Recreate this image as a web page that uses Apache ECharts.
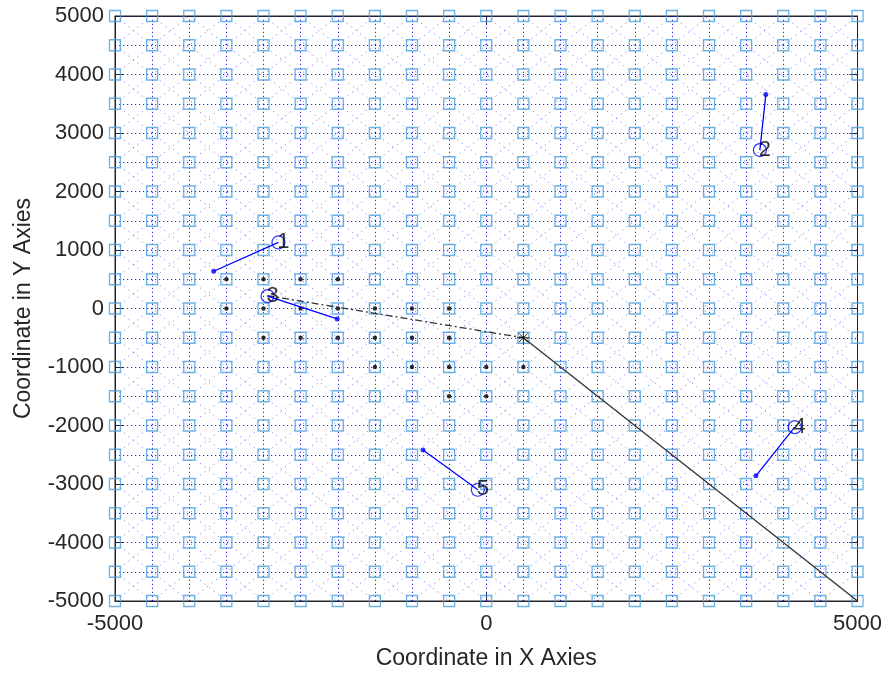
<!DOCTYPE html>
<html>
<head>
<meta charset="utf-8">
<script src="https://cdn.jsdelivr.net/npm/echarts@6/dist/echarts.min.js"></script>
<style>html,body{margin:0;padding:0;background:#fff}#c{width:885px;height:675px}</style>
</head>
<body>
<div id="c"></div>
<script>
// ---- data ----
var nodeValues = [-5000,-4500,-4000,-3500,-3000,-2500,-2000,-1500,-1000,-500,0,500,1000,1500,2000,2500,3000,3500,4000,4500,5000];
var xTicks = [-5000, 0, 5000];
var yTicks = [-5000,-4000,-3000,-2000,-1000,0,1000,2000,3000,4000,5000];
var coveredNodes = [
  [-3500,500],[-3000,500],[-2500,500],[-2000,500],
  [-3500,0],[-3000,0],[-2500,0],[-2000,0],[-1500,0],[-1000,0],[-500,0],
  [-3000,-500],[-2500,-500],[-2000,-500],[-1500,-500],[-1000,-500],[-500,-500],
  [-1500,-1000],[-1000,-1000],[-500,-1000],[0,-1000],[500,-1000],
  [-500,-1500],[0,-1500]
];
var basePoint = [500,-500];
var solidPath = [[500,-500],[5000,-5000]];
var dashDotPath = [[-2950,220],[500,-500]];
var trackNames = ['1','2','3','4','5'];
var trackHeads = [[-2799,1129],[3685,2708],[-2946,212],[4154,-2029],[-114,-3098]];
var trackTails = [[-3671,637],[3765,3659],[-2007,-178],[3631,-2861],[-852,-2419]];

// ---- build ----
var lo = nodeValues[0], hi = nodeValues[nodeValues.length-1];
var gridNodes = [];
nodeValues.forEach(function(x){ nodeValues.forEach(function(y){ gridNodes.push([x,y]); }); });
var hvLines = [];
nodeValues.forEach(function(v){
  hvLines.push({coords:[[lo,v],[hi,v]]});
  hvLines.push({coords:[[v,lo],[v,hi]]});
});
var diagLines = [];
for (var i = 1; i < nodeValues.length*2-2; i++) {
  var c = (i - (nodeValues.length-1)) * (nodeValues[1]-nodeValues[0]);
  if (c >= 0) diagLines.push({coords:[[lo+c,lo],[hi,hi-c]]});
  else diagLines.push({coords:[[lo,lo-c],[hi+c,hi]]});
  if (c >= 0) diagLines.push({coords:[[c-hi,hi],[hi,c-hi]]});
  else diagLines.push({coords:[[lo,c+hi],[c+hi,lo]]});
}

var FONT = 'Liberation Sans';
var TXT = '#262626';
var plain = function(v){ return String(v); };
var series = [
  {type:'lines', coordinateSystem:'cartesian2d', data: diagLines, silent:true, z:1,
   lineStyle:{color:'#0000ff', width:1, type:[1.2,4.5], opacity:0.5}},
  {type:'lines', coordinateSystem:'cartesian2d', data: hvLines, silent:true, z:1,
   lineStyle:{color:'#0000ff', width:1, type:[1.2,2.8], opacity:0.85}},
  {type:'scatter', data: gridNodes, symbol:'rect', symbolSize:11, clip:false, z:2, silent:true,
   itemStyle:{color:'rgba(0,0,0,0)', borderColor:'#4A9EDC', borderWidth:1.3}},
  {type:'scatter', data: coveredNodes, symbol:'circle', symbolSize:4.5, z:3, silent:true,
   itemStyle:{color:'#000'}},
  {type:'line', data: solidPath, symbol:'none', z:4, silent:true,
   lineStyle:{color:'#333', width:1.3}},
  {type:'line', data: dashDotPath, symbol:'none', z:4, silent:true,
   lineStyle:{color:'#333', width:1.3, type:[7,3,2,3]}},
  {type:'scatter', data:[basePoint], z:5, silent:true, symbolSize:13,
   symbol:'path://M0,6L12,6M6,0L6,12M1.8,1.8L10.2,10.2M10.2,1.8L1.8,10.2',
   itemStyle:{color:'none', borderColor:'#000', borderWidth:1}}
];
trackNames.forEach(function(n, k){
  series.push({type:'line', data:[trackHeads[k], trackTails[k]], symbol:'none', z:6, silent:true,
    lineStyle:{color:'#0000ff', width:1.3}});
});
series.push({type:'scatter', data: trackTails, symbol:'circle', symbolSize:5, z:7, silent:true,
  itemStyle:{color:'#0000ff'}});
series.push({type:'scatter', z:8, silent:true, symbol:'circle', symbolSize:13,
  data: trackHeads.map(function(p,k){ return {value:p, name:trackNames[k]}; }),
  itemStyle:{color:'rgba(0,0,0,0)', borderColor:'#0000ff', borderWidth:1.2},
  label:{show:true, formatter:'{b}', position:[6,6.5], align:'left', verticalAlign:'middle',
    color:'#000', fontFamily:FONT, fontSize:22}});

var chart = echarts.init(document.getElementById('c'), null, {renderer:'canvas'});
chart.setOption({
  animation:false,
  backgroundColor:'#fff',
  grid:{left:115, right:25, top:16, bottom:70, show:true, borderColor:TXT, borderWidth:1, backgroundColor:'#fff'},
  xAxis:[{type:'value', min:xTicks[0], max:xTicks[xTicks.length-1], interval:xTicks[1]-xTicks[0],
    name:'Coordinate in X Axies', nameLocation:'middle', nameGap:46,
    nameTextStyle:{color:TXT, fontFamily:FONT, fontSize:23},
    axisLine:{show:true, onZero:false, lineStyle:{color:TXT}}, axisTick:{show:true, inside:true, length:8, lineStyle:{color:TXT}},
    axisLabel:{color:TXT, fontFamily:FONT, fontSize:22, margin:12, formatter:plain}, splitLine:{show:false}},
   {type:'value', position:'top', min:xTicks[0], max:xTicks[xTicks.length-1], interval:xTicks[1]-xTicks[0],
    axisLine:{show:true, onZero:false, lineStyle:{color:TXT}}, axisTick:{show:true, inside:true, length:8, lineStyle:{color:TXT}},
    axisLabel:{show:false}, splitLine:{show:false}}],
  yAxis:[{type:'value', min:yTicks[0], max:yTicks[yTicks.length-1], interval:yTicks[1]-yTicks[0],
    name:'Coordinate in Y Axies', nameLocation:'middle', nameGap:80,
    nameTextStyle:{color:TXT, fontFamily:FONT, fontSize:23},
    axisLine:{show:true, onZero:false, lineStyle:{color:TXT}}, axisTick:{show:true, inside:true, length:8, lineStyle:{color:TXT}},
    axisLabel:{color:TXT, fontFamily:FONT, fontSize:22, margin:11, formatter:plain}, splitLine:{show:false}},
   {type:'value', position:'right', min:yTicks[0], max:yTicks[yTicks.length-1], interval:yTicks[1]-yTicks[0],
    axisLine:{show:true, onZero:false, lineStyle:{color:TXT}}, axisTick:{show:true, inside:true, length:8, lineStyle:{color:TXT}},
    axisLabel:{show:false}, splitLine:{show:false}}],
  series: series
});
</script>
</body>
</html>
